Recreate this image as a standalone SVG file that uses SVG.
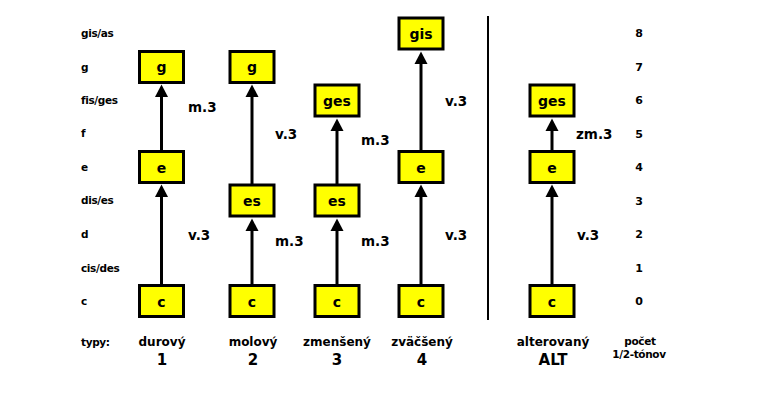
<svg xmlns="http://www.w3.org/2000/svg" width="757" height="393" viewBox="0 0 757 393">
<style>
text{font-family:"DejaVu Sans",Verdana,sans-serif;font-weight:bold;fill:#000}
.box{fill:#ffff00;stroke:#000;stroke-width:3}
.bt{font-size:14px;text-anchor:middle}
.sm{font-size:10.5px;letter-spacing:-0.35px}
.num{font-size:11px;text-anchor:middle}
.iv{font-size:13.5px}
.ty{font-size:12px;text-anchor:middle}
.tn{font-size:15px;text-anchor:middle}
.cn{stroke:#000;stroke-width:3}
</style>
<rect width="757" height="393" fill="#fff"/>
<g id="scale-left" class="sm">
<text x="81" y="37">gis/as</text>
<text x="81" y="71">g</text>
<text x="81" y="104">fis/ges</text>
<text x="81" y="137">f</text>
<text x="81" y="171">e</text>
<text x="81" y="204">dis/es</text>
<text x="81" y="238">d</text>
<text x="81" y="272">cis/des</text>
<text x="81" y="305">c</text>
<text x="81" y="346">typy:</text>
</g>
<g id="scale-right">
<text class="num" x="639" y="37">8</text>
<text class="num" x="639" y="71">7</text>
<text class="num" x="639" y="104">6</text>
<text class="num" x="639" y="138">5</text>
<text class="num" x="639" y="171">4</text>
<text class="num" x="639" y="205">3</text>
<text class="num" x="639" y="238">2</text>
<text class="num" x="639" y="272">1</text>
<text class="num" x="639" y="305">0</text>
<text class="sm" x="640" y="345" text-anchor="middle">počet</text>
<text class="sm" x="639" y="358" text-anchor="middle">1/2-tónov</text>
</g>
<g id="divider"><line x1="488" y1="16" x2="488" y2="320" stroke="#000" stroke-width="2"/></g>
<g id="connectors">
<g fill="#000">
<line class="cn" x1="161.5" y1="284" x2="161.5" y2="195"/><polygon points="155,197 168,197 161.5,184.5"/>
<line class="cn" x1="161.5" y1="150" x2="161.5" y2="95"/><polygon points="155,97 168,97 161.5,84.5"/>
<line class="cn" x1="252" y1="284" x2="252" y2="229"/><polygon points="245.5,231 258.5,231 252,218.5"/>
<line class="cn" x1="252" y1="184" x2="252" y2="95"/><polygon points="245.5,97 258.5,97 252,84.5"/>
<line class="cn" x1="337" y1="284" x2="337" y2="229"/><polygon points="330.5,231 343.5,231 337,218.5"/>
<line class="cn" x1="337" y1="184" x2="337" y2="129"/><polygon points="330.5,131 343.5,131 337,118.5"/>
<line class="cn" x1="421" y1="284" x2="421" y2="195"/><polygon points="414.5,197 427.5,197 421,184.5"/>
<line class="cn" x1="421" y1="150" x2="421" y2="62"/><polygon points="414.5,64 427.5,64 421,51.5"/>
<line class="cn" x1="552" y1="284" x2="552" y2="195"/><polygon points="545.5,197 558.5,197 552,184.5"/>
<line class="cn" x1="552" y1="150" x2="552" y2="129"/><polygon points="545.5,131 558.5,131 552,118.5"/>
</g>
<text class="iv" x="188" y="112">m.3</text>
<text class="iv" x="188" y="240">v.3</text>
<text class="iv" x="275" y="139">v.3</text>
<text class="iv" x="275" y="246">m.3</text>
<text class="iv" x="361" y="145">m.3</text>
<text class="iv" x="361" y="246">m.3</text>
<text class="iv" x="445" y="106">v.3</text>
<text class="iv" x="445" y="240">v.3</text>
<text class="iv" x="576" y="139">zm.3</text>
<text class="iv" x="577" y="240">v.3</text>
</g>
<g id="col1">
<rect class="box" x="139.5" y="285.5" width="44" height="31"/><text class="bt" x="161.5" y="306.5">c</text>
<rect class="box" x="139.5" y="151.5" width="44" height="31"/><text class="bt" x="161.5" y="172.5">e</text>
<rect class="box" x="139.5" y="51.5" width="44" height="31"/><text class="bt" x="161.5" y="72">g</text>
<text class="ty" x="162" y="346">durový</text><text class="tn" x="162" y="365">1</text>
</g>
<g id="col2">
<rect class="box" x="230" y="285.5" width="44" height="31"/><text class="bt" x="252" y="306.5">c</text>
<rect class="box" x="230" y="185" width="44" height="31"/><text class="bt" x="252" y="206">es</text>
<rect class="box" x="230" y="51.5" width="44" height="31"/><text class="bt" x="252" y="72">g</text>
<text class="ty" x="253" y="346">molový</text><text class="tn" x="253" y="365">2</text>
</g>
<g id="col3">
<rect class="box" x="315" y="285.5" width="44" height="31"/><text class="bt" x="337" y="306.5">c</text>
<rect class="box" x="315" y="185" width="44" height="31"/><text class="bt" x="337" y="206">es</text>
<rect class="box" x="315" y="85" width="44" height="31"/><text class="bt" x="337" y="105.5">ges</text>
<text class="ty" x="337" y="346">zmenšený</text><text class="tn" x="337" y="365">3</text>
</g>
<g id="col4">
<rect class="box" x="399" y="285.5" width="44" height="31"/><text class="bt" x="421" y="306.5">c</text>
<rect class="box" x="399" y="151.5" width="44" height="31"/><text class="bt" x="421" y="172.5">e</text>
<rect class="box" x="399" y="18" width="44" height="31"/><text class="bt" x="421" y="38.5">gis</text>
<text class="ty" x="422" y="346">zväčšený</text><text class="tn" x="422" y="365">4</text>
</g>
<g id="col5">
<rect class="box" x="530" y="285.5" width="44" height="31"/><text class="bt" x="552" y="306.5">c</text>
<rect class="box" x="530" y="151.5" width="44" height="31"/><text class="bt" x="552" y="172.5">e</text>
<rect class="box" x="530" y="85" width="44" height="31"/><text class="bt" x="552" y="105.5">ges</text>
<text class="ty" x="553" y="346">alterovaný</text><text class="tn" x="553" y="365">ALT</text>
</g>
</svg>
